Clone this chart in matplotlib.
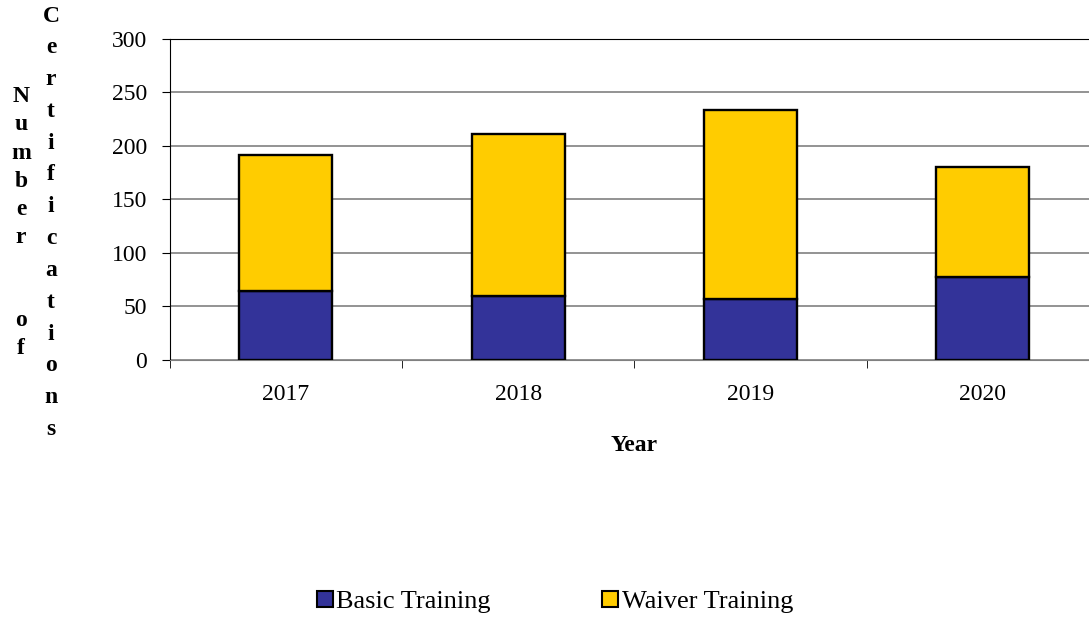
import numpy as np
import matplotlib.pyplot as plt
from matplotlib.patches import Patch

years = ['2017', '2018', '2019', '2020']
basic = [64, 60, 57, 78]
waiver = [128, 151, 177, 102]
yticks = [0, 50, 100, 150, 200, 250, 300]

plt.rcParams['font.family'] = ['Liberation Serif', 'DejaVu Serif']

fig = plt.figure(figsize=(10.89, 6.2), dpi=100)
ax = fig.add_axes([0.1557, 0.4194, 0.8535, 0.5177])

x = np.arange(len(years))
ax.bar(x, basic, width=0.4, color='#333399', edgecolor='black', linewidth=1.7, zorder=3)
ax.bar(x, waiver, width=0.4, bottom=basic, color='#FFCC00', edgecolor='black', linewidth=1.7, zorder=3)

ax.set_xlim(-0.5, len(years) - 0.5)
ax.set_ylim(0, 300)
ax.set_yticks(yticks)
ax.yaxis.grid(True, color='#808080', linewidth=1.2, zorder=0)

ax.set_xticks(x)
ax.set_xticklabels(years, fontsize=17)
ax.set_xticks(np.arange(len(years) + 1) - 0.5, minor=True)
ax.tick_params(axis='x', which='major', length=0, pad=17)
ax.tick_params(axis='x', which='minor', length=6, direction='out', color='black')
ax.tick_params(axis='y', labelsize=17, length=6, direction='out', pad=10)

ax.spines['right'].set_visible(False)
ax.spines['top'].set_color('black')
ax.spines['bottom'].set_color('#808080')
ax.spines['left'].set_color('black')

ax.set_xlabel('Year', fontsize=17, fontweight='bold', labelpad=22)

# vertical stacked y-axis label, letter by letter
H = 620
col1 = 'Number  of'
for i, ch in enumerate(col1):
    if ch != ' ':
        fig.text(21 / 1089, 1 - (97 + 28 * i) / H, ch, fontsize=17, fontweight='bold',
                 ha='center', va='center')
col2 = 'Certifications'
for i, ch in enumerate(col2):
    fig.text(51 / 1089, 1 - (16 + 31.8 * i) / H, ch, fontsize=17, fontweight='bold',
             ha='center', va='center')

handles = [Patch(facecolor='#333399', edgecolor='black', linewidth=1.5, label='Basic Training'),
           Patch(facecolor='#FFCC00', edgecolor='black', linewidth=1.5, label='Waiver Training')]
fig.legend(handles=handles, loc='center', bbox_to_anchor=(0.5095, 1 - 602 / H), ncol=2,
           frameon=False, fontsize=19, handlelength=0.6, handleheight=0.6,
           handletextpad=0.15, columnspacing=4.2)

fig.savefig('out.png', dpi=100)
